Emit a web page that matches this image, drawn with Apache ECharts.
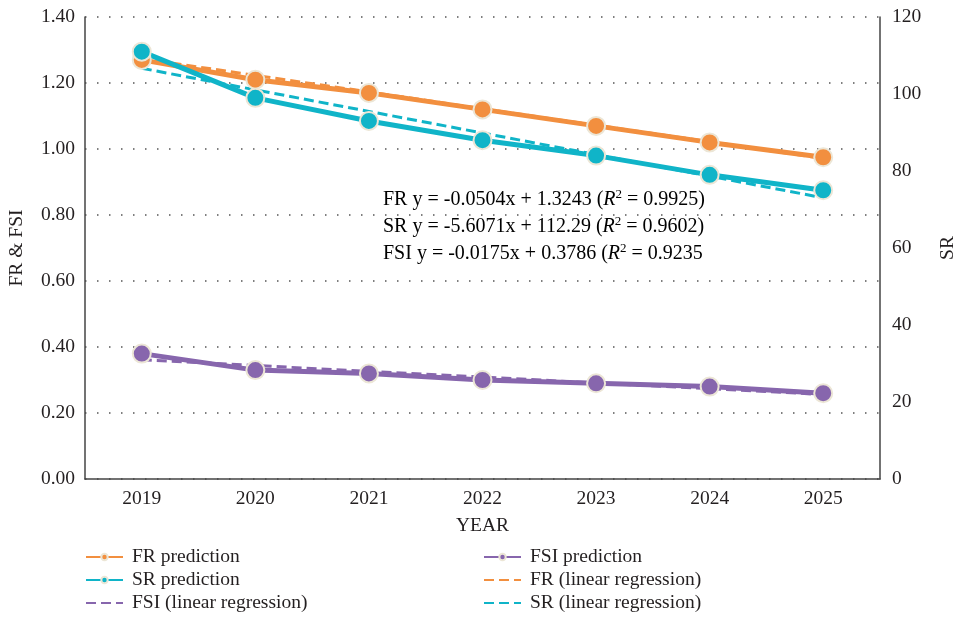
<!DOCTYPE html>
<html>
<head>
<meta charset="utf-8">
<script src="https://cdn.jsdelivr.net/npm/echarts@6/dist/echarts.min.js"></script>
<style>
  html, body { margin: 0; padding: 0; background: #fff; }
  #chart { width: 955px; height: 618px; }
</style>
</head>
<body>
<div id="chart"></div>
<script>
// Years on the category axis
const years = ['2019', '2020', '2021', '2022', '2023', '2024', '2025'];

// Predicted values
const frPrediction = [1.27, 1.21, 1.17, 1.12, 1.07, 1.02, 0.975];
const fsiPrediction = [0.38, 0.33, 0.32, 0.30, 0.29, 0.28, 0.26];
const srPrediction = [111, 99, 93, 88, 84, 79, 75];

// Linear regression fits (values at x = 1..7)
const frRegression = [1.274, 1.223, 1.173, 1.122, 1.072, 1.022, 0.971];
const fsiRegression = [0.361, 0.344, 0.326, 0.309, 0.291, 0.274, 0.256];
const srRegression = [106.68, 101.08, 95.47, 89.87, 84.26, 78.65, 73.04];

// Regression equations shown inside the plot
const equations = [
  ['FR y = -0.0504x + 1.3243 (', ' = 0.9925)'],
  ['SR y = -5.6071x + 112.29 (', ' = 0.9602)'],
  ['FSI y = -0.0175x + 0.3786 (', ' = 0.9235']
];

const FONT = 'Liberation Serif';
const FS = 19.5;
const TEXT = '#231f20';
const ORANGE = '#f28f3f';
const TEAL = '#10b4c8';
const PURPLE = '#8766ad';
const RING = '#ece6d6';

function predSeries(name, data, color, axis) {
  return {
    name: name, type: 'line', data: data, yAxisIndex: axis,
    symbol: 'circle', symbolSize: 18,
    lineStyle: { color: color, width: 5 },
    itemStyle: { color: color, borderColor: RING, borderWidth: 2 },
    emphasis: { disabled: true }, z: 3
  };
}
function regSeries(name, data, color, axis) {
  return {
    name: name, type: 'line', data: data, yAxisIndex: axis,
    symbol: 'none',
    lineStyle: { color: color, width: 3, type: [10, 5] },
    itemStyle: { color: color },
    emphasis: { disabled: true }, z: 2
  };
}

function legendAt(name, left, top, dashed) {
  const item = dashed ? { name: name, itemStyle: { opacity: 0 } } : { name: name };
  return {
    data: [item], left: left, top: top, orient: 'horizontal',
    itemWidth: 37, itemHeight: 8, itemGap: 0, padding: 0,
    textStyle: { fontFamily: FONT, fontSize: FS, color: TEXT, padding: [0, 0, 0, 4] }
  };
}

const eqRich = {
  n: { fontFamily: FONT, fontSize: 20, color: TEXT, lineHeight: 24 },
  i: { fontFamily: FONT, fontSize: 20, color: TEXT, fontStyle: 'italic', lineHeight: 24 },
  s: { fontFamily: FONT, fontSize: 13, color: TEXT, lineHeight: 14, verticalAlign: 'top' }
};

const chart = echarts.init(document.getElementById('chart'), null, { renderer: 'canvas' });
chart.setOption({
  animation: false,
  backgroundColor: '#ffffff',
  grid: { left: 85, right: 75, top: 17, bottom: 139, containLabel: false, outerBoundsMode: 'none' },
  legend: [
    legendAt('FR prediction', 85, 547, false),
    legendAt('SR prediction', 85, 570, false),
    legendAt('FSI (linear regression)', 85, 593, true),
    legendAt('FSI prediction', 483, 547, false),
    legendAt('FR (linear regression)', 483, 570, true),
    legendAt('SR (linear regression)', 483, 593, true)
  ],
  xAxis: {
    type: 'category', data: years, boundaryGap: true,
    name: 'YEAR', nameLocation: 'middle', nameGap: 37,
    nameTextStyle: { fontFamily: FONT, fontSize: FS, color: TEXT },
    axisLine: { lineStyle: { color: '#444', width: 1.5 } },
    axisTick: { show: false },
    axisLabel: { fontFamily: FONT, fontSize: FS, color: TEXT, margin: 10 }
  },
  yAxis: [
    {
      type: 'value', min: 0, max: 1.4, interval: 0.2, position: 'left',
      name: 'FR & FSI', nameLocation: 'middle', nameGap: 58,
      nameTextStyle: { fontFamily: FONT, fontSize: FS, color: TEXT },
      axisLine: { show: true, lineStyle: { color: '#444', width: 1.5 } },
      axisTick: { show: false },
      axisLabel: { fontFamily: FONT, fontSize: FS, color: TEXT, margin: 10,
        formatter: v => v.toFixed(2) },
      splitLine: { show: true, lineStyle: { color: '#555', width: 1.5, type: [1.5, 10.5] } }
    },
    {
      type: 'value', min: 0, max: 120, interval: 20, position: 'right',
      name: 'SR', nameLocation: 'middle', nameGap: 58, nameRotate: 90,
      nameTextStyle: { fontFamily: FONT, fontSize: FS, color: TEXT },
      axisLine: { show: true, lineStyle: { color: '#444', width: 1.5 } },
      axisTick: { show: false },
      axisLabel: { fontFamily: FONT, fontSize: FS, color: TEXT, margin: 12 },
      splitLine: { show: false }
    }
  ],
  series: [
    predSeries('FR prediction', frPrediction, ORANGE, 0),
    predSeries('FSI prediction', fsiPrediction, PURPLE, 0),
    predSeries('SR prediction', srPrediction, TEAL, 1),
    regSeries('FR (linear regression)', frRegression, ORANGE, 0),
    regSeries('FSI (linear regression)', fsiRegression, PURPLE, 0),
    regSeries('SR (linear regression)', srRegression, TEAL, 1)
  ],
  graphic: equations.map((eq, k) => ({
    type: 'text', left: 383, top: 188 + k * 27, z: 10,
    style: {
      text: '{n|' + eq[0] + '}{i|R}{s|2}{n|' + eq[1] + '}',
      rich: eqRich
    }
  }))
});
</script>
</body>
</html>
